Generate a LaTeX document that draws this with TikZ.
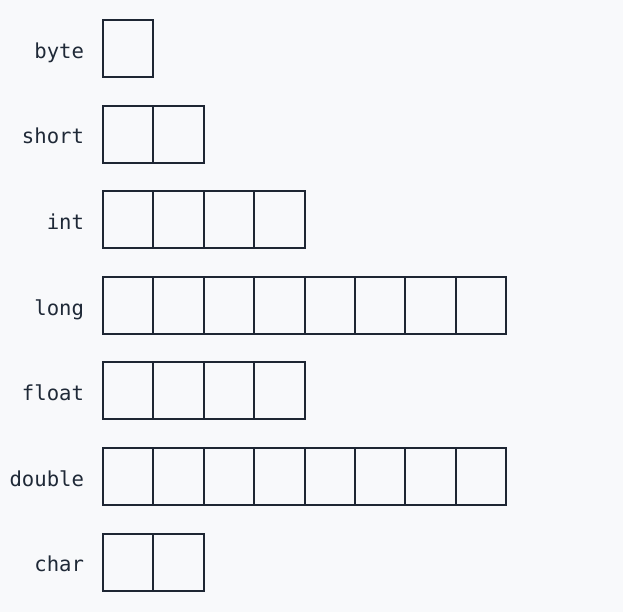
\documentclass[tikz,border=0pt]{standalone}
\usepackage{fontspec}
\setmonofont{DejaVu Sans Mono}
\definecolor{bgc}{HTML}{F8F9FB}
\definecolor{linec}{HTML}{1E2633}
\definecolor{textc}{HTML}{1F2937}
\begin{document}
\begin{tikzpicture}[x=1pt,y=-1pt,
  cell/.style={draw=linec, line width=2pt, minimum width=50.4pt, minimum height=57pt,
    inner sep=0pt, outer sep=0pt, anchor=north west},
  lbl/.style={font=\ttfamily\fontsize{20.6}{24}\selectfont, text=textc, anchor=base east, inner sep=0pt}]
\fill[bgc] (0,0) rectangle (623,612);
\useasboundingbox (0,0) rectangle (623,612);
\foreach \nm/\n [count=\r] in {byte/1,short/2,int/4,long/8,float/4,double/8,char/2}{
  \pgfmathsetmacro{\top}{20+(\r-1)*85.6}
  \node[lbl] (l\r) at (84.2,\top+38.2) {\nm};
  \foreach \i in {1,...,\n}{
    \node[cell] (c\r-\i) at ({103+(\i-1)*50.4},\top) {};
  }
}
\end{tikzpicture}
\end{document}
